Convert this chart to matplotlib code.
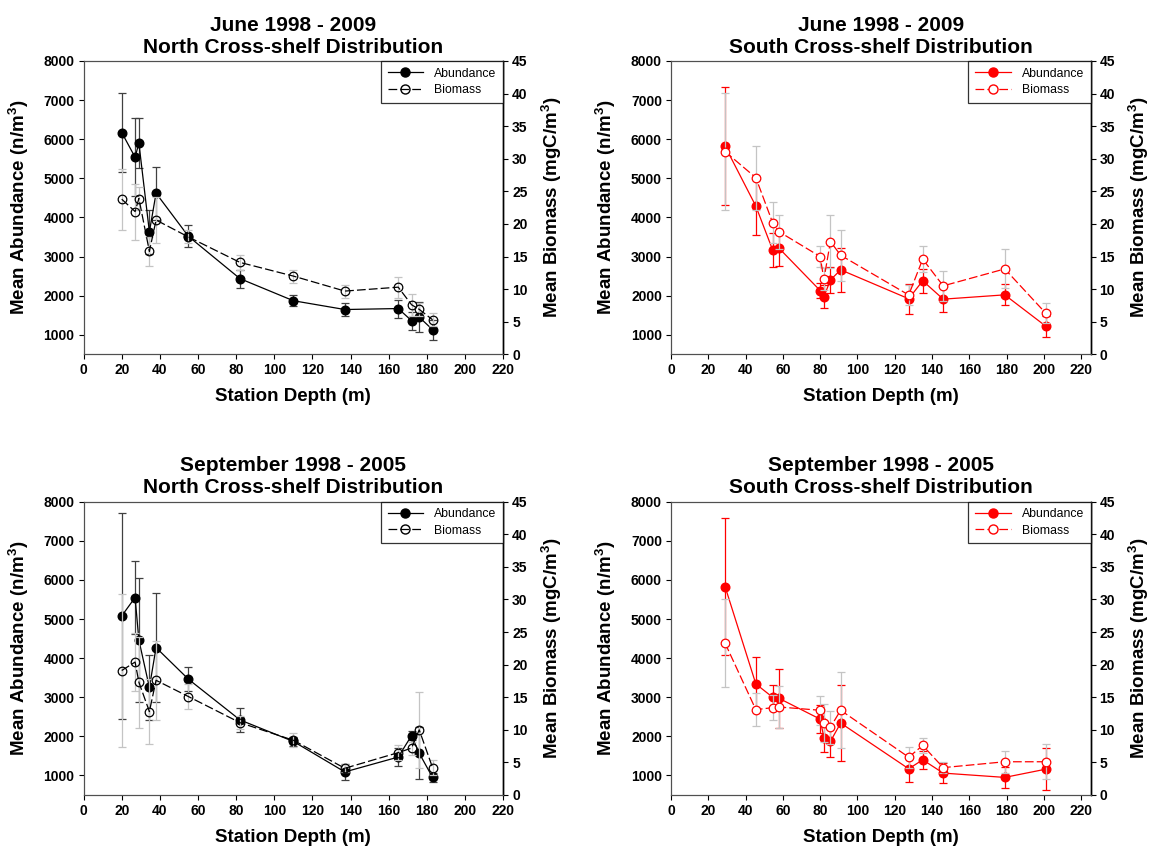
import matplotlib
matplotlib.use("Agg")
import matplotlib.pyplot as plt
from matplotlib.lines import Line2D

plt.rcParams['font.family'] = ['Liberation Sans', 'DejaVu Sans']
plt.rcParams['mathtext.fontset'] = 'custom'
plt.rcParams['mathtext.rm'] = 'Liberation Sans:bold'
plt.rcParams['mathtext.bf'] = 'Liberation Sans:bold'

# station depths (m)
north_depth = [20, 27, 29, 34.5, 38, 55, 82, 110, 137, 165, 172, 176, 183]
south_depth = [29, 45.5, 54.5, 58, 80, 82, 85.5, 91, 127.5, 135, 146, 179, 201]

# June 1998 - 2009, north
jn_ab = [6170, 5540, 5900, 3630, 4620, 3515, 2435, 1870, 1645, 1670, 1360, 1450, 1130]
jn_ab_err = [1000, 1000, 640, 570, 680, 280, 230, 140, 170, 230, 230, 375, 255]
jn_bm = [23.8, 21.9, 23.9, 15.8, 20.6, 18.0, 14.1, 12.0, 9.7, 10.3, 7.6, 6.9, 5.3]
jn_bm_err = [4.7, 4.3, 1.8, 2.2, 3.5, 1.0, 1.2, 1.0, 1.0, 1.6, 1.7, 1.0, 1.0]

# June 1998 - 2009, south
js_ab = [5820, 4290, 3170, 3210, 2130, 1970, 2400, 2660, 1920, 2380, 1910, 2020, 1220]
js_ab_err = [1510, 740, 430, 450, 200, 290, 345, 565, 380, 310, 330, 270, 270]
js_bm = [31.1, 27.1, 20.2, 18.8, 15.0, 11.5, 17.3, 15.2, 9.1, 14.6, 10.5, 13.1, 6.3]
js_bm_err = [9.0, 4.9, 3.1, 2.6, 1.6, 1.7, 4.0, 3.9, 1.5, 2.0, 2.3, 3.0, 1.5]

# September 1998 - 2005, north
sn_ab = [5080, 5550, 4460, 3250, 4270, 3460, 2420, 1870, 1090, 1470, 2020, 1570, 950]
sn_ab_err = [2640, 935, 1590, 830, 1395, 310, 300, 110, 200, 240, 120, 660, 120]
sn_bm = [19.1, 20.4, 17.3, 12.8, 17.6, 15.1, 11.1, 8.4, 4.1, 6.5, 7.2, 10.0, 4.2]
sn_bm_err = [11.8, 4.5, 7.0, 5.0, 6.1, 1.9, 1.0, 1.1, 0.6, 1.2, 1.0, 5.8, 1.1]

# September 1998 - 2005, south
ss_ab = [5830, 3340, 3000, 2970, 2440, 1970, 1870, 2340, 1170, 1400, 1060, 950, 1160]
ss_ab_err = [1760, 680, 310, 745, 360, 380, 410, 970, 340, 230, 250, 270, 535]
ss_bm = [23.3, 13.1, 13.4, 13.5, 13.0, 11.0, 10.4, 13.0, 5.8, 7.6, 4.2, 5.1, 5.1]
ss_bm_err = [6.7, 2.5, 1.9, 3.2, 2.2, 2.9, 2.5, 5.8, 1.6, 1.2, 0.9, 1.7, 2.7]

W, H = 1153, 856
fig = plt.figure(figsize=(W / 100, H / 100), dpi=100)


def panel(rect, title, depth, ab, ab_err, bm, bm_err, color, err_col, bm_face, xmax):
    ax = fig.add_axes(rect)
    ax2 = ax.twinx()

    ax.errorbar(depth, ab, yerr=ab_err, fmt='none', ecolor=err_col,
                elinewidth=0.9, capsize=3, capthick=0.9, zorder=2)
    ax.plot(depth, ab, '-', color=color, lw=0.9, marker='o', ms=6.2,
            mfc=color, mec=color, zorder=3)

    ax2.errorbar(depth, bm, yerr=bm_err, fmt='none', ecolor='#c4c4c4',
                 elinewidth=0.9, capsize=3, capthick=0.9, zorder=2)
    ax2.plot(depth, bm, color=color, lw=0.9, dashes=(7, 2.5), marker='o', ms=6.2,
             mfc=bm_face, mec=color, mew=0.9, zorder=3)

    ax.set_xlim(0, xmax)
    ax.set_ylim(500, 8000)
    ax2.set_ylim(0, 45)
    ax.set_xticks(range(0, 221, 20))
    ax.set_yticks(range(1000, 8001, 1000))
    ax2.set_yticks(range(0, 46, 5))

    for a in (ax, ax2):
        a.tick_params(direction='out', length=3.5, width=0.8, labelsize=10, pad=3)
        for lab in a.get_xticklabels() + a.get_yticklabels():
            lab.set_fontweight('bold')
        for s in ('left', 'bottom', 'top'):
            a.spines[s].set_color('#505050')
            a.spines[s].set_linewidth(0.8)
        a.spines['right'].set_color('black')
        a.spines['right'].set_linewidth(1.0)

    ax.set_xlabel('Station Depth (m)', fontsize=13.5, fontweight='bold', labelpad=8)
    ax.set_ylabel('Mean Abundance (n/m$^{3}$)', fontsize=13.5, fontweight='bold', labelpad=9)
    ax2.set_ylabel('Mean Biomass (mgC/m$^{3}$)', fontsize=13.5, fontweight='bold', labelpad=8)
    ax.set_title(title, fontsize=15, fontweight='bold', pad=6, linespacing=1.2)

    handles = [
        Line2D([], [], color=color, lw=0.9, marker='o', ms=6.5, mfc=color, mec=color),
        Line2D([], [], color=color, lw=0.9, dashes=(7, 2.5), marker='o', ms=6.5,
               mfc=bm_face, mec=color),
    ]
    leg = ax2.legend(handles, ['Abundance', 'Biomass'], loc='upper right',
                     borderaxespad=0, fancybox=False, fontsize=8.8,
                     handlelength=2.9, numpoints=1, borderpad=0.55,
                     labelspacing=0.35, handletextpad=0.9)
    leg.get_frame().set_edgecolor('black')
    leg.get_frame().set_linewidth(0.9)
    return ax, ax2


top_y = 1 - 354.3 / H
bot_y = 1 - 795 / H
h = (354.3 - 61) / H
w = 419.5 / W
lx = 83.6 / W
rx = 671 / W

panel([lx, top_y, w, h], 'June 1998 - 2009\nNorth Cross-shelf Distribution',
      north_depth, jn_ab, jn_ab_err, jn_bm, jn_bm_err, 'black', '#404040', 'none', 220)
panel([rx, top_y, w, h], 'June 1998 - 2009\nSouth Cross-shelf Distribution',
      south_depth, js_ab, js_ab_err, js_bm, js_bm_err, 'red', 'red', 'white', 225)
panel([lx, bot_y, w, h], 'September 1998 - 2005\nNorth Cross-shelf Distribution',
      north_depth, sn_ab, sn_ab_err, sn_bm, sn_bm_err, 'black', '#404040', 'none', 220)
panel([rx, bot_y, w, h], 'September 1998 - 2005\nSouth Cross-shelf Distribution',
      south_depth, ss_ab, ss_ab_err, ss_bm, ss_bm_err, 'red', 'red', 'white', 225)

fig.savefig('out.png', dpi=100)
